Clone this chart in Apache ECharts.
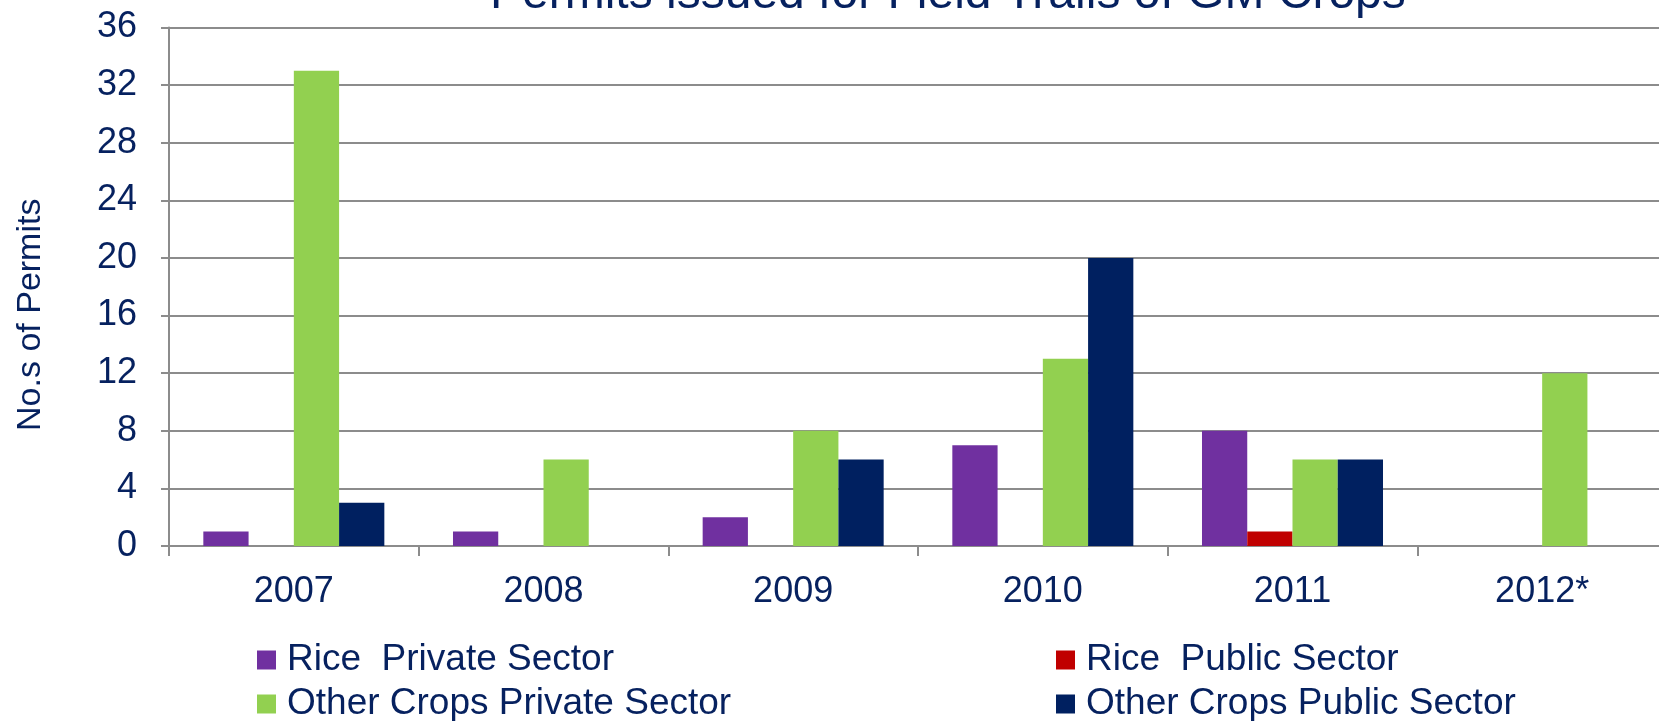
<!DOCTYPE html>
<html><head><meta charset="utf-8">
<script src="https://cdn.jsdelivr.net/npm/echarts@6/dist/echarts.min.js"></script>
<style>html,body{margin:0;padding:0;background:#fff}#c{width:1659px;height:721px}</style>
</head><body><div id="c"></div>
<script>
const titleText = 'Permits issued for Field Trails of GM Crops';
const yAxisName = 'No.s of Permits';
const categories = ['2007', '2008', '2009', '2010', '2011', '2012*'];
const seriesNames = ['Rice  Private Sector', 'Rice  Public Sector', 'Other Crops Private Sector', 'Other Crops Public Sector'];
const ricePrivate = [1, 1, 2, 7, 8, 0];
const ricePublic = [0, 0, 0, 0, 1, 0];
const otherPrivate = [33, 6, 8, 13, 6, 12];
const otherPublic = [3, 0, 6, 20, 6, 0];
const colors = ['#7030A0', '#C00000', '#92D050', '#002060'];
const textColor = '#06215F';
const font = 'Liberation Sans, Arial, sans-serif';

const values = [ricePrivate, ricePublic, otherPrivate, otherPublic];
const legendPos = [[257, 640], [1056, 640], [257, 684], [1056, 684]];
const chart = echarts.init(document.getElementById('c'));
chart.setOption({
  animation: false,
  backgroundColor: '#fff',
  title: {
    text: titleText, left: 490, top: -29, padding: 0,
    textStyle: { fontFamily: font, fontSize: 48, fontWeight: 'normal', color: textColor }
  },
  legend: seriesNames.map((n, i) => ({
    left: legendPos[i][0], top: legendPos[i][1], padding: 0,
    itemWidth: 19, itemHeight: 19, icon: 'rect', data: [n],
    textStyle: { fontFamily: font, fontSize: 37, color: textColor, lineHeight: 40, padding: [0, 0, 0, 6] }
  })),
  grid: { left: 169, top: 27.5, width: 1498, height: 518.5, outerBoundsMode: 'none', containLabel: false },
  xAxis: {
    type: 'category', data: categories,
    axisLine: { lineStyle: { color: '#8c8c8c', width: 2 } },
    axisTick: { show: true, length: 10, interval: 0, lineStyle: { color: '#8c8c8c', width: 2 } },
    axisLabel: { margin: 28, fontFamily: font, fontSize: 36, color: textColor, interval: 0 }
  },
  yAxis: {
    type: 'value', min: 0, max: 36, interval: 4,
    name: yAxisName, nameLocation: 'middle', nameGap: 121, nameRotate: 90,
    nameTextStyle: { fontFamily: font, fontSize: 34, color: textColor, padding: [0, 56, 0, 0] },
    axisLine: { show: true, lineStyle: { color: '#8c8c8c', width: 2 } },
    axisTick: { show: true, length: 8, lineStyle: { color: '#8c8c8c', width: 2 } },
    axisLabel: { margin: 32, fontFamily: font, fontSize: 36, color: textColor },
    splitLine: { show: true, lineStyle: { color: '#8c8c8c', width: 2 } }
  },
  series: seriesNames.map((n, i) => ({
    name: n, type: 'bar', data: values[i], barGap: '0%', barCategoryGap: '27.5%',
    itemStyle: { color: colors[i] }
  }))
});
</script></body></html>
